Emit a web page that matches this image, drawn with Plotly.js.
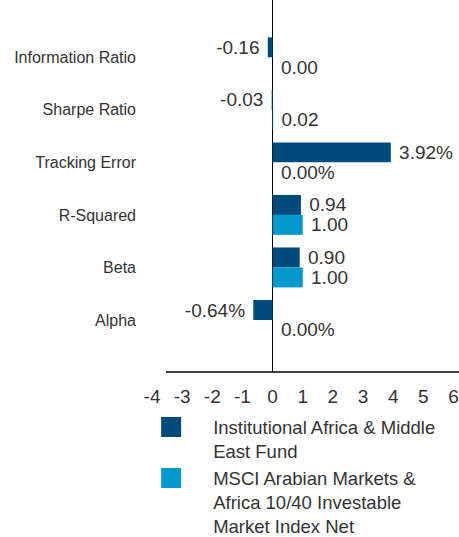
<!DOCTYPE html>
<html>
<head>
<meta charset="utf-8">
<script src="https://cdn.plot.ly/plotly-3.0.1.min.js"></script>
<style>
  html, body { margin: 0; padding: 0; background: #fff; }
  #chart { width: 459px; height: 537px; }
</style>
</head>
<body>
<div id="chart"></div>
<script>
// ---- data ----
var categories = ['Information Ratio', 'Sharpe Ratio', 'Tracking Error', 'R-Squared', 'Beta', 'Alpha'];
var fundValues = [-0.16, -0.03, 3.92, 0.94, 0.90, -0.64];
var indexValues = [0.00, 0.02, 0.00, 1.00, 1.00, 0.00];
var valueUnits = ['', '', '%', '', '', '%'];
var seriesNames = ['Institutional Africa & Middle<br>East Fund',
                   'MSCI Arabian Markets &<br>Africa 10/40 Investable<br>Market Index Net'];
var seriesColors = ['#004b7c', '#0099cc'];
var xTickVals = [-4, -3, -2, -1, 0, 1, 2, 3, 4, 5, 6];
var xTickText = ['-4', '-3', '-2', '-1', '0', '1', '2', '3', '4', '5', '6'];

var NB = '\u00a0';
function labels(vals) {
  return vals.map(function (v, i) {
    var s = v.toFixed(2) + valueUnits[i];
    return v < 0 ? s + NB : NB + s;
  });
}

var textFont = { family: 'Liberation Sans, Arial, sans-serif', size: 19, color: '#333333' };

function barTrace(vals, idx) {
  return {
    type: 'bar',
    orientation: 'h',
    y: categories,
    x: vals,
    text: labels(vals),
    textposition: 'outside',
    textfont: textFont,
    constraintext: 'none',
    cliponaxis: false,
    marker: { color: seriesColors[idx] },
    showlegend: false,
    hoverinfo: 'none'
  };
}

function legendTrace(idx) {
  return {
    type: 'scatter',
    mode: 'markers',
    x: [null],
    y: [null],
    name: seriesNames[idx],
    marker: { symbol: 'square', size: 16, color: seriesColors[idx],
              line: { color: seriesColors[idx], width: 4 } },
    hoverinfo: 'none'
  };
}

var data = [barTrace(fundValues, 0), barTrace(indexValues, 1), legendTrace(0), legendTrace(1)];

var layout = {
  width: 459,
  height: 537,
  margin: { l: 146, r: 1, t: 0, b: 165, autoexpand: false },
  paper_bgcolor: '#ffffff',
  plot_bgcolor: '#ffffff',
  font: { family: 'Liberation Sans, Arial, sans-serif', color: '#333333' },
  barmode: 'group',
  bargap: 0.24,
  bargroupgap: 0,
  showlegend: true,
  legend: {
    x: -0.054, xanchor: 'left',
    y: -0.098, yanchor: 'top',
    itemwidth: 74,
    valign: 'top',
    font: { size: 18.5, color: '#333333' },
    tracegroupgap: 0,
    bgcolor: 'rgba(0,0,0,0)'
  },
  xaxis: {
    range: [-4.2, 6.15],
    tickmode: 'array',
    tickvals: xTickVals,
    ticktext: xTickText,
    tickfont: { size: 19, color: '#333333' },
    showgrid: false,
    showline: false,
    zeroline: true,
    zerolinecolor: '#000000',
    zerolinewidth: 1.3,
    ticks: '',
    ticklabelstandoff: 11,
    fixedrange: true
  },
  yaxis: {
    type: 'category',
    categoryorder: 'array',
    categoryarray: categories,
    range: [5.99, -1.09],
    tickfont: { size: 16, color: '#333333' },
    showgrid: false,
    showline: false,
    zeroline: false,
    ticks: '',
    ticklabelstandoff: 9,
    fixedrange: true
  },
  shapes: [{
    type: 'line', xref: 'paper', yref: 'paper',
    x0: 0.064, x1: 1.01, y0: 0, y1: 0,
    line: { color: '#000000', width: 1.3 }
  }]
};

Plotly.newPlot('chart', data, layout, { displayModeBar: false, staticPlot: true });
</script>
</body>
</html>
